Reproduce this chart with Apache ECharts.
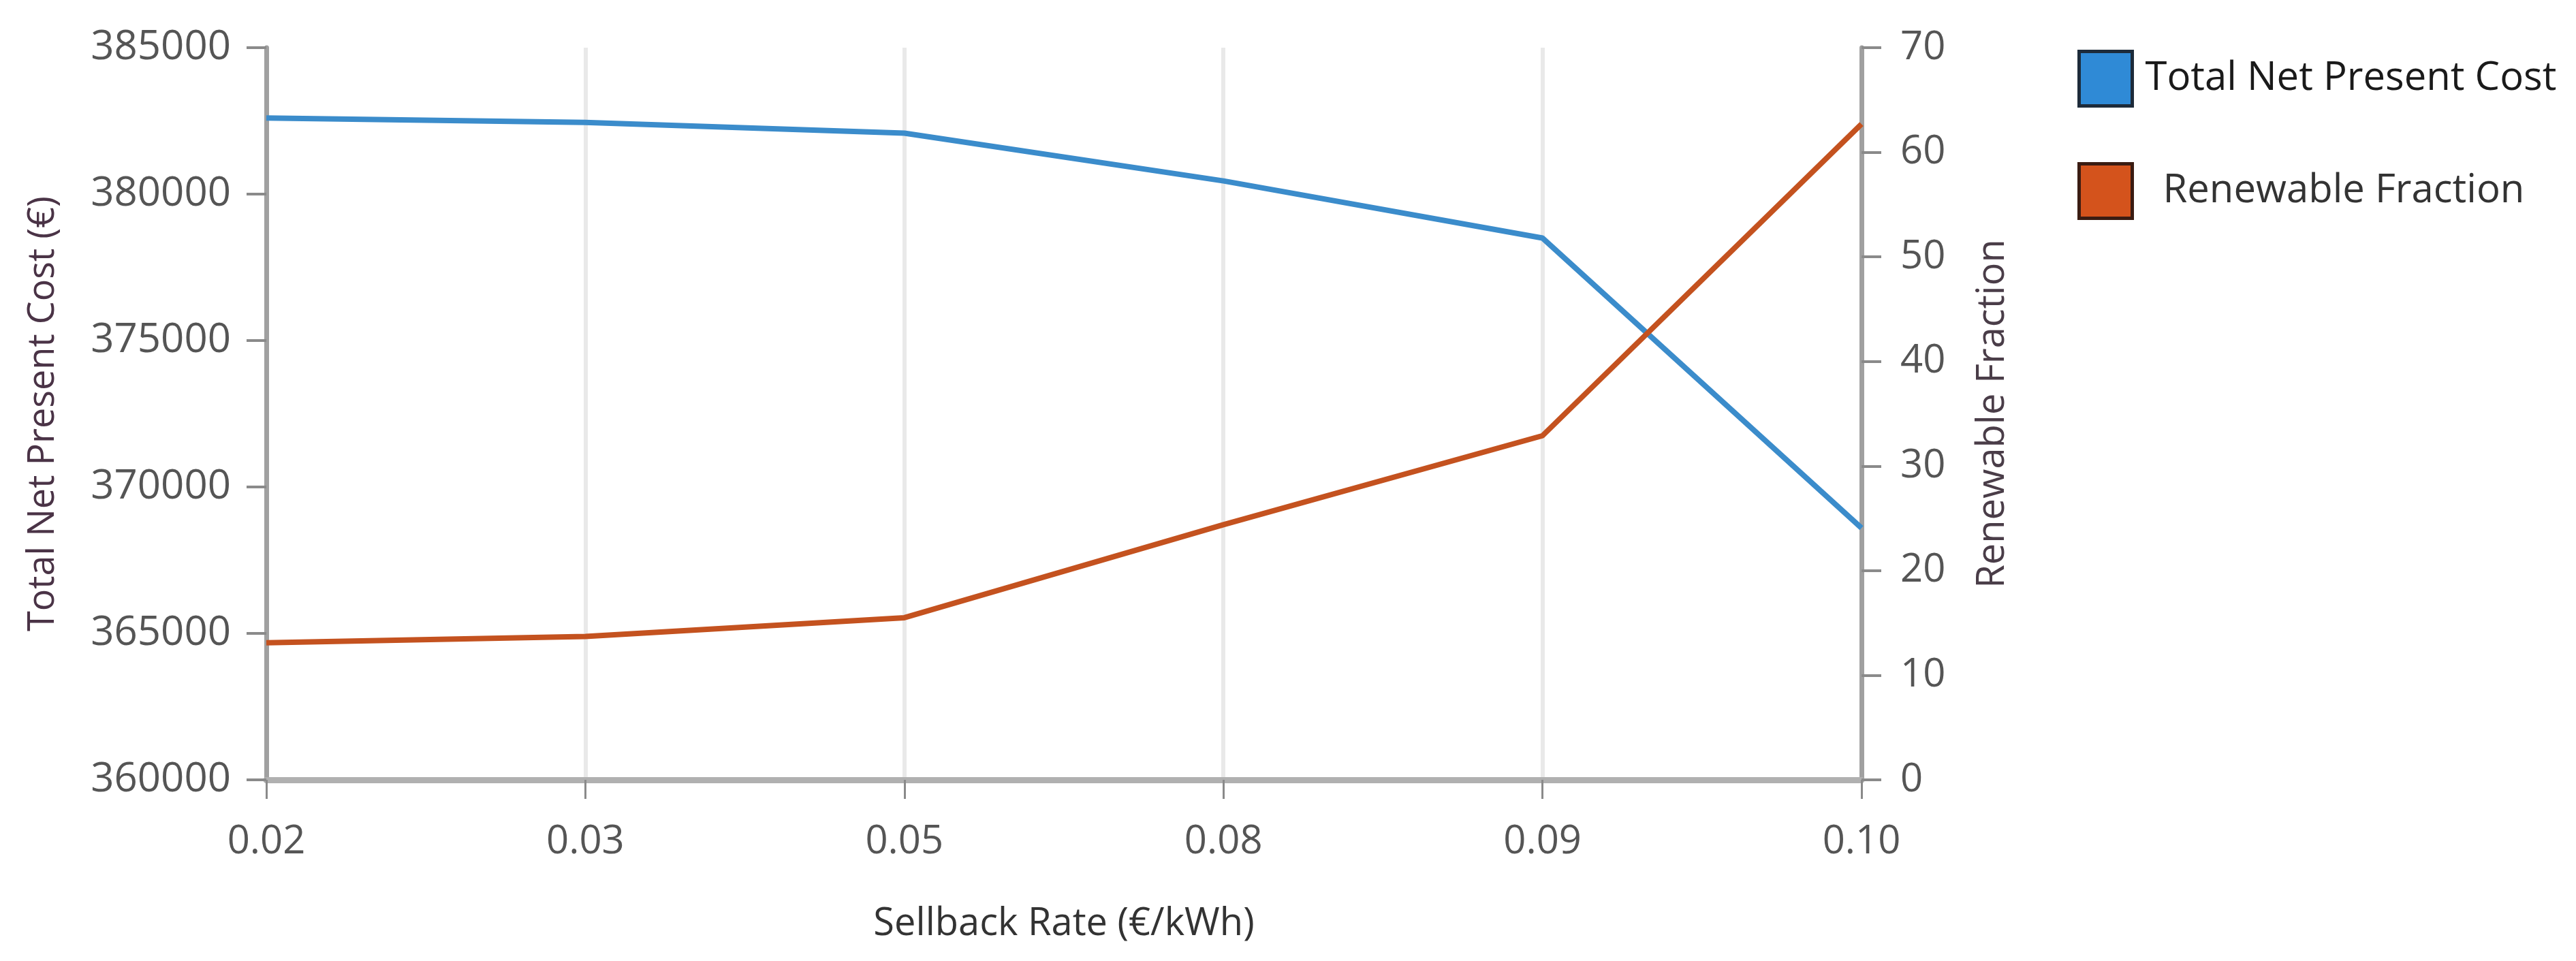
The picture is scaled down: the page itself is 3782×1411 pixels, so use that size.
<!DOCTYPE html>
<html>
<head>
<meta charset="utf-8">
<script src="https://cdn.jsdelivr.net/npm/echarts@6/dist/echarts.min.js"></script>
<style>
html,body{margin:0;padding:0;background:#fff;}
#chart{width:3782px;height:1411px;}
</style>
</head>
<body>
<div id="chart"></div>
<script>
const categories = ['0.02', '0.03', '0.05', '0.08', '0.09', '0.10'];
const totalNetPresentCost = [382600, 382450, 382080, 380450, 378500, 368600];
const renewableFraction = [13.1, 13.7, 15.5, 24.4, 32.9, 62.7];
const leftTicks = { min: 360000, max: 385000, interval: 5000 };
const rightTicks = { min: 0, max: 70, interval: 10 };

const FONT = '"Open Sans", "Noto Sans", sans-serif';
const chart = echarts.init(document.getElementById('chart'), null, { renderer: 'canvas' });

const option = {
  backgroundColor: '#ffffff',
  animation: false,
  grid: { left: 391, right: 1049, top: 70, bottom: 266, containLabel: false },
  legend: {
    orient: 'vertical',
    left: 3045,
    top: 68,
    itemWidth: 78,
    itemHeight: 80,
    itemGap: 80,
    icon: 'rect',
    textStyle: { fontFamily: FONT, fontSize: 58, color: '#1a1a1a', padding: [0, 0, 0, 14] },
    data: [
      { name: 'Total Net Present Cost', itemStyle: { color: '#2f8ad6', borderColor: '#1d2b3a', borderWidth: 5 } },
      { name: 'Renewable Fraction', itemStyle: { color: '#d4531c', borderColor: '#3a1c12', borderWidth: 5 }, textStyle: { color: '#333333', padding: [0, 0, 0, 40] } }
    ]
  },
  xAxis: {
    type: 'category',
    data: categories,
    boundaryGap: false,
    name: 'Sellback Rate (€/kWh)',
    nameLocation: 'middle',
    nameGap: 184,
    nameTextStyle: { fontFamily: FONT, fontSize: 56, color: '#333333' },
    axisLine: { show: true, lineStyle: { color: '#b0b0b0', width: 9 } },
    axisTick: { show: true, length: 28, alignWithLabel: true, lineStyle: { color: '#8a8a8a', width: 3 } },
    axisLabel: { fontFamily: FONT, fontSize: 58, color: '#555555', margin: 62 },
    splitLine: { show: true, lineStyle: { color: '#e9e9e9', width: 6 } }
  },
  yAxis: [
    {
      type: 'value',
      position: 'left',
      min: leftTicks.min,
      max: leftTicks.max,
      interval: leftTicks.interval,
      name: 'Total Net Present Cost (€)',
      nameLocation: 'middle',
      nameGap: 300,
      nameTextStyle: { fontFamily: FONT, fontSize: 54, color: '#4a3346' },
      axisLine: { show: true, lineStyle: { color: '#a0a0a0', width: 7 } },
      axisTick: { show: true, length: 29, lineStyle: { color: '#8a8a8a', width: 4 } },
      axisLabel: { fontFamily: FONT, fontSize: 60, color: '#555555', margin: 52, formatter: function (v) { return String(v); } },
      splitLine: { show: false }
    },
    {
      type: 'value',
      position: 'right',
      min: rightTicks.min,
      max: rightTicks.max,
      interval: rightTicks.interval,
      name: 'Renewable Fraction',
      nameLocation: 'middle',
      nameGap: 165,
      nameTextStyle: { fontFamily: FONT, fontSize: 56, color: '#4a3d48' },
      axisLine: { show: true, lineStyle: { color: '#a0a0a0', width: 7 } },
      axisTick: { show: true, length: 29, lineStyle: { color: '#8a8a8a', width: 4 } },
      axisLabel: { fontFamily: FONT, fontSize: 58, color: '#555555', margin: 57 },
      splitLine: { show: false }
    }
  ],
  series: [
    {
      name: 'Total Net Present Cost',
      type: 'line',
      yAxisIndex: 0,
      data: totalNetPresentCost,
      showSymbol: false,
      symbol: 'none',
      lineStyle: { color: '#3b8ccb', width: 8 },
      itemStyle: { color: '#2f8ad6' },
      z: 3
    },
    {
      name: 'Renewable Fraction',
      type: 'line',
      yAxisIndex: 1,
      data: renewableFraction,
      showSymbol: false,
      symbol: 'none',
      lineStyle: { color: '#c4521f', width: 8 },
      itemStyle: { color: '#d4531c' },
      z: 4
    }
  ]
};
chart.setOption(option);
</script>
</body>
</html>
